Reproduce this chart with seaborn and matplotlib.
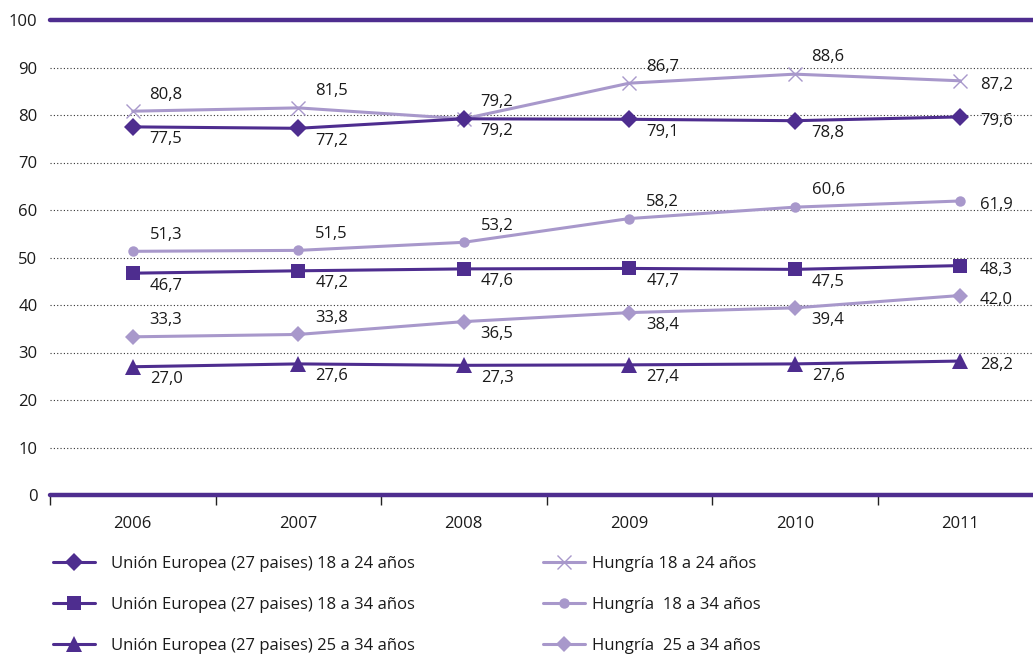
import pandas as pd
import seaborn as sns
import matplotlib.pyplot as plt
from matplotlib.lines import Line2D
from matplotlib.ticker import FixedLocator

years = [2006, 2007, 2008, 2009, 2010, 2011]

ue_18_24 = [77.5, 77.2, 79.2, 79.1, 78.8, 79.6]
ue_18_34 = [46.7, 47.2, 47.6, 47.7, 47.5, 48.3]
ue_25_34 = [27.0, 27.6, 27.3, 27.4, 27.6, 28.2]
hu_18_24 = [80.8, 81.5, 79.2, 86.7, 88.6, 87.2]
hu_18_34 = [51.3, 51.5, 53.2, 58.2, 60.6, 61.9]
hu_25_34 = [33.3, 33.8, 36.5, 38.4, 39.4, 42.0]

names = [
    "Unión Europea (27 paises) 18 a 24 años",
    "Unión Europea (27 paises) 18 a 34 años",
    "Unión Europea (27 paises) 25 a 34 años",
    "Hungría 18 a 24 años",
    "Hungría  18 a 34 años",
    "Hungría  25 a 34 años",
]
values = [ue_18_24, ue_18_34, ue_25_34, hu_18_24, hu_18_34, hu_25_34]

DARK = "#4e2d8f"
LIGHT = "#a898cb"
colors = [DARK, DARK, DARK, LIGHT, LIGHT, LIGHT]
markers = ["D", "s", "^", "x", "o", "D"]
msizes = [9, 10, 11, 10, 7.5, 8.5]
# label placement per point: a=above, b=below, r=right
placement = [
    "bbbbbr",
    "bbbbbr",
    "bbbbbr",
    "aaaaar",
    "aaaaar",
    "aabbbr",
]

sns.set_theme(style="white")
plt.rcParams["font.family"] = ["Open Sans", "DejaVu Sans"]
FS = 12

fig = plt.figure(figsize=(10.33, 6.56), dpi=100)
ax = fig.add_axes([50 / 1033, 161 / 656, 993 / 1033, 475 / 656])

# draw light (Hungría) series first, EU series on top
order = [3, 4, 5, 0, 1, 2]
for i in order:
    d = pd.DataFrame({"Año": years, "Valor": values[i]})
    sns.lineplot(data=d, x="Año", y="Valor", color=colors[i], marker=markers[i],
                 markersize=msizes[i], markeredgecolor=colors[i],
                 markeredgewidth=(1.0 if markers[i] == "x" else 0),
                 linewidth=2.2, ax=ax, clip_on=False, zorder=3)

# data labels
offsets = {"a": (24, 12), "b": (24, -9), "r": (26, -3)}
for name, vals, plc in zip(names, values, placement):
    for y, v, p in zip(years, vals, plc):
        ax.annotate(f"{v:.1f}".replace(".", ","), (y, v), xytext=offsets[p],
                    textcoords="offset points", ha="center", va="center",
                    fontsize=FS, color="#1a1a1a", annotation_clip=False)

ax.set_xlim(2005.5, 2011.5)
ax.set_ylim(0, 100)
ax.set_yticks(range(0, 101, 10))
ax.set_xticks(years)
ax.xaxis.set_minor_locator(FixedLocator([y - 0.5 for y in years] + [2011.5]))
ax.tick_params(axis="x", which="major", length=0, pad=15, labelsize=FS, labelcolor="#1a1a1a")
ax.tick_params(axis="x", which="minor", length=7, width=1, color="#222222", direction="out", bottom=True)
ax.tick_params(axis="y", length=0, pad=9, labelsize=FS, labelcolor="#1a1a1a")
ax.set_xlabel("")
ax.set_ylabel("")
for s in ax.spines.values():
    s.set_visible(False)

for gy in range(10, 100, 10):
    ax.axhline(gy, color="#333333", linestyle=(0, (1, 2)), linewidth=0.8, zorder=0)
for gy in (0, 100):
    ax.axhline(gy, color=DARK, linewidth=3.2, zorder=1, clip_on=False)

handles = [
    Line2D([0], [0], color=c, marker=m, markersize=ms, linewidth=2.2,
           markeredgecolor=c, markeredgewidth=(1.0 if m == "x" else 0))
    for c, m, ms in zip(colors, markers, msizes)
]
leg_kw = dict(loc="upper left", frameon=False, fontsize=FS, handlelength=2.5,
              labelspacing=1.5, borderpad=0, borderaxespad=0, labelcolor="#1a1a1a")
fig.legend(handles[:3], names[:3], bbox_to_anchor=(53 / 1033, 1 - 556 / 656),
           handletextpad=1.0, **leg_kw)
fig.legend(handles[3:], names[3:], bbox_to_anchor=(543 / 1033, 1 - 556 / 656),
           handletextpad=0.45, **leg_kw)

fig.savefig("out.png", dpi=100)
